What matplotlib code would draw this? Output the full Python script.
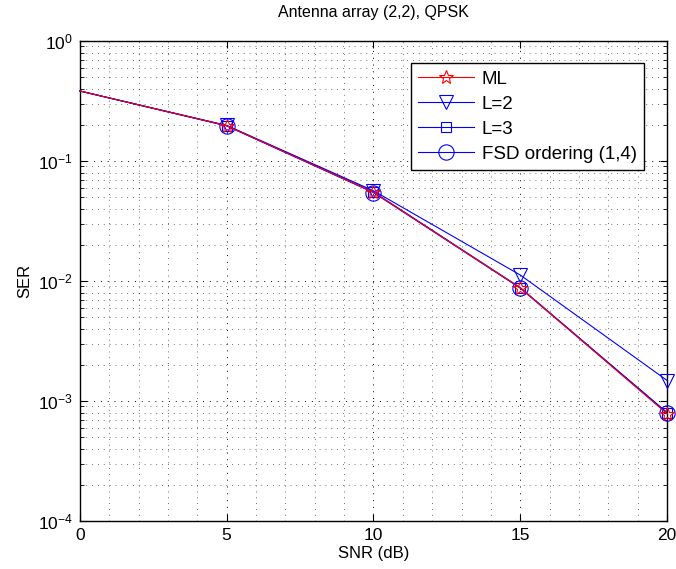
import matplotlib
matplotlib.use("Agg")
import matplotlib.pyplot as plt
from matplotlib.ticker import LogLocator, MultipleLocator, NullFormatter

plt.rcParams["font.family"] = ["Liberation Sans", "DejaVu Sans"]

snr = [0, 5, 10, 15, 20]
ser_ml = [0.383, 0.197, 0.0548, 0.00875, 0.00078]
ser_l2 = [0.383, 0.198, 0.0565, 0.0112, 0.00148]
ser_l3 = [0.383, 0.197, 0.0552, 0.00880, 0.00080]
ser_fsd = [0.383, 0.196, 0.0545, 0.00870, 0.00079]

fig = plt.figure(figsize=(6.76, 5.69), dpi=100)
ax = fig.add_axes([0.118, 0.0844, 0.869, 0.8436])

lw = 0.8
series = [
    (ser_ml, "red", "*", 10, "ML", 4),
    (ser_l2, "blue", "v", 10, "L=2", 3),
    (ser_l3, "blue", "s", 7, "L=3", 3),
    (ser_fsd, "blue", "o", 11, "FSD ordering (1,4)", 3),
]
for vals, col, mk, ms, lab, z in series:
    ax.semilogy(snr, vals, color=col, lw=lw, marker=mk, ms=ms, mfc="none",
                mew=0.8, markevery=[1, 2, 3, 4], label=lab, zorder=z,
                clip_on=False)

ax.set_xlim(0, 20)
ax.set_ylim(1e-4, 1)
ax.xaxis.set_major_locator(MultipleLocator(5))
ax.xaxis.set_minor_locator(MultipleLocator(1))
ax.yaxis.set_major_locator(LogLocator(base=10, numticks=10))
ax.yaxis.set_minor_locator(LogLocator(base=10, subs=range(2, 10), numticks=20))
ax.yaxis.set_minor_formatter(NullFormatter())

ax.grid(True, which="major", linestyle=(0, (1, 6)), color="black", lw=0.7)
ax.grid(True, which="minor", linestyle=(0, (1, 6)), color="black", lw=0.6, alpha=0.75)
ax.tick_params(which="both", direction="in", top=True, right=True, labelsize=12.5)
ax.tick_params(which="major", length=5, pad=5)
ax.tick_params(which="minor", length=3)
ax.tick_params(axis="x", which="minor", length=0)
for s in ax.spines.values():
    s.set_linewidth(1.0)

ax.set_xlabel("SNR (dB)", fontsize=12, labelpad=2)
ax.set_ylabel("SER", fontsize=12)
ax.set_title("Antenna array (2,2), QPSK", fontsize=11.5, pad=17)

leg = ax.legend(loc="upper right", bbox_to_anchor=(0.977, 0.973), fontsize=13.5,
                fancybox=False, edgecolor="black", framealpha=1,
                handlelength=3.0, borderpad=0.4, labelspacing=0.42,
                handletextpad=0.4)
leg.get_frame().set_linewidth(1.0)

fig.savefig("out.png", dpi=100)
